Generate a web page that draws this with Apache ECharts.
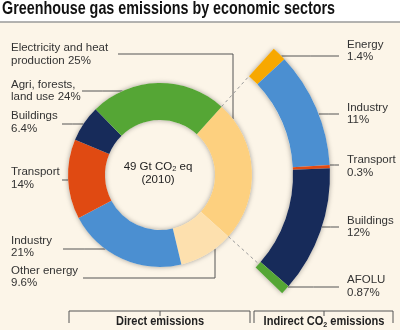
<!DOCTYPE html>
<html><head><meta charset="utf-8">
<script src="https://cdn.jsdelivr.net/npm/echarts@6/dist/echarts.min.js"></script>
<style>html,body{margin:0;padding:0;background:#fff}#c{width:400px;height:330px}</style>
</head><body><div id="c"></div>
<script>
// ---- data ----
const chartTitle = 'Greenhouse gas emissions by economic sectors';
const centerLines = ['49 Gt CO', '2', ' eq', '(2010)'];
const directNames = ['Electricity and heat\nproduction', 'Other energy', 'Industry', 'Transport', 'Buildings', 'Agri, forests,\nland use'];
const directValues = [25, 9.6, 21, 14, 6.4, 24];
const indirectNames = ['Energy', 'Industry', 'Transport', 'Buildings', 'AFOLU'];
const indirectValues = [1.4, 11, 0.3, 12, 0.87];
const groupNames = ['Direct emissions', 'Indirect CO', '2', ' emissions'];

// ---- styles / layout ----
const directColors = ['#fdd07f', '#fde0ae', '#4b8fd1', '#e04a12', '#172b5a', '#55a635'];
const indirectColors = ['#f7a800', '#4b8fd1', '#e04a12', '#172b5a', '#55a635'];
const G = {cx: 160, cy: 175, r0: 55, r1: 92, a0: 133, a1: 170, start: 48};
const FONT = 'Liberation Sans, Arial, sans-serif';
const TITLE_FONT = 'bold 18.5px Liberation Sans, Arial, sans-serif';
const GROUP_FONT = 'bold 12.5px Liberation Sans, Arial, sans-serif';
const TITLE_WIDTH = 333, GROUP_W0 = 88, GROUP_W1 = 123;
const directLayout = [
  {ty: 54.5, ly: 54, lx: 118, elbow: 233},
  {ty: 277, ly: 278, lx: 83, elbow: 215},
  {ty: 247, ly: 249, lx: 63},
  {ty: 178.5, ly: 180, lx: 62},
  {ty: 122.5, ly: 124, lx: 62},
  {ty: 91, ly: 91, lx: 82}
];
const indirectLayout = [
  {ty: 51, ly: 56}, {ty: 114, ly: 114}, {ty: 166.5, ly: 165}, {ty: 227, ly: 227}, {ty: 286.5, ly: 287}
];
const leftTextX = 11, rightTextX = 347, rightLineX = 339;

const totalDirect = directValues.reduce((a, b) => a + b, 0);
const totalIndirect = indirectValues.reduce((a, b) => a + b, 0);
const fmt = (name, v) => name.indexOf('\n') >= 0 ? name + ' ' + v + '%' : name + '\n' + v + '%';

const labelStyle = {color: '#333', fontSize: 11.5, lineHeight: 12.5, fontFamily: FONT};
const lineStyle = {color: '#555', width: 1};

// fit condensed-looking bold texts into their widths
const ctx = document.createElement('canvas').getContext('2d');
ctx.font = TITLE_FONT;
const titleScale = TITLE_WIDTH / ctx.measureText(chartTitle).width;
ctx.font = GROUP_FONT;
const g0Scale = GROUP_W0 / ctx.measureText(groupNames[0]).width;
const g1Scale = GROUP_W1 / ctx.measureText(groupNames[1] + groupNames[2] + groupNames[3]).width;

function directLabelLayout(p) {
  const L = directLayout[p.dataIndex];
  if (!L) return {};
  let pts;
  if (L.elbow != null) {
    const dy = Math.sqrt(G.r1 * G.r1 - (L.elbow - G.cx) * (L.elbow - G.cx));
    const ey = L.ly < G.cy ? G.cy - dy : G.cy + dy;
    pts = [[L.elbow, ey], [L.elbow, L.ly], [L.lx, L.ly]];
  } else {
    const dx = Math.sqrt(G.r1 * G.r1 - (L.ly - G.cy) * (L.ly - G.cy));
    const ex = G.cx - dx;
    pts = [[ex, L.ly], [(ex + L.lx) / 2, L.ly], [L.lx, L.ly]];
  }
  return {x: leftTextX, y: L.ty, align: 'left', verticalAlign: 'middle', labelLinePoints: pts};
}
function indirectLabelLayout(p) {
  const L = indirectLayout[p.dataIndex];
  if (!L) return {};
  const dx = Math.sqrt(G.a1 * G.a1 - (L.ly - G.cy) * (L.ly - G.cy));
  const ex = G.cx + dx;
  return {x: rightTextX, y: L.ty, align: 'left', verticalAlign: 'middle',
    labelLinePoints: [[ex, L.ly], [(ex + rightLineX) / 2, L.ly], [rightLineX, L.ly]]};
}

const chart = echarts.init(document.getElementById('c'), null, {renderer: 'canvas'});
const shadow = {shadowBlur: 5, shadowColor: 'rgba(0,0,0,0.35)'};

const option = {
  animation: false,
  backgroundColor: '#ffffff',
  polar: {center: [G.cx, G.cy], radius: G.a1},
  angleAxis: {type: 'value', min: 0, max: totalDirect, startAngle: G.start, clockwise: true, show: false},
  radiusAxis: {type: 'value', min: 0, max: G.a1, show: false},
  graphic: [
    {type: 'rect', z: -10, shape: {x: 0, y: 22, width: 400, height: 308}, style: {fill: '#fcf5e8'}},
    {type: 'line', z: -5, shape: {x1: 0, y1: 22, x2: 400, y2: 22}, style: {stroke: '#9a9a9a', lineWidth: 1.5}},
    {type: 'text', x: 2, y: 9, scaleX: titleScale, style: {text: chartTitle, font: TITLE_FONT,
      align: 'left', verticalAlign: 'middle', fill: '#111'}},
    {type: 'text', z: 10, x: 158, y: 173, style: {
      text: '{n|' + centerLines[0] + '}{s|' + centerLines[1] + '}{n|' + centerLines[2] + '}\n{n|' + centerLines[3] + '}',
      align: 'center', verticalAlign: 'middle', fill: '#222',
      rich: {n: {fontSize: 11.5, fontFamily: FONT, lineHeight: 13, fill: '#222'},
             s: {fontSize: 7.5, fontFamily: FONT, lineHeight: 13, padding: [5, 0, 0, 0], fill: '#222'}}}},
    {type: 'polyline', shape: {points: [[69, 323], [69, 311], [250, 311], [250, 323]]}, style: {stroke: '#555', lineWidth: 1, fill: null}},
    {type: 'line', shape: {x1: 160, y1: 311, x2: 160, y2: 316}, style: {stroke: '#555', lineWidth: 1}},
    {type: 'polyline', shape: {points: [[254, 323], [254, 311], [393, 311], [393, 323]]}, style: {stroke: '#555', lineWidth: 1, fill: null}},
    {type: 'line', shape: {x1: 324, y1: 311, x2: 324, y2: 316}, style: {stroke: '#555', lineWidth: 1}},
    {type: 'text', x: 160, y: 322, scaleX: g0Scale, style: {text: groupNames[0], align: 'center', verticalAlign: 'middle',
      font: GROUP_FONT, fill: '#222'}},
    {type: 'text', x: 324, y: 322, scaleX: g1Scale, style: {
      text: '{b|' + groupNames[1] + '}{s|' + groupNames[2] + '}{b|' + groupNames[3] + '}',
      align: 'center', verticalAlign: 'middle', fill: '#222',
      rich: {b: {fontSize: 12.5, fontWeight: 'bold', fontFamily: FONT, lineHeight: 14, fill: '#222'},
             s: {fontSize: 8, fontWeight: 'bold', fontFamily: FONT, lineHeight: 14, padding: [5, 0, 0, 0], fill: '#222'}}}}
  ],
  series: [
    // shadow bases
    {type: 'pie', silent: true, center: [G.cx, G.cy], radius: [G.r0, G.r1], startAngle: G.start,
      label: {show: false}, labelLine: {show: false},
      data: [{value: totalDirect, itemStyle: Object.assign({color: '#fcf5e8'}, shadow)}]},
    {type: 'pie', silent: true, center: [G.cx, G.cy], radius: [G.a0, G.a1], startAngle: G.start,
      label: {show: false}, labelLine: {show: false},
      data: [{value: totalIndirect, itemStyle: Object.assign({color: '#fcf5e8'}, shadow)},
             {value: totalDirect - totalIndirect, itemStyle: {color: 'rgba(0,0,0,0)'}}]},
    // direct
    {type: 'pie', name: 'Direct', silent: true, center: [G.cx, G.cy], radius: [G.r0, G.r1], startAngle: G.start,
      clockwise: true, avoidLabelOverlap: false,
      label: Object.assign({show: true, position: 'outside', formatter: p => fmt(p.name, p.value)}, labelStyle),
      labelLine: {show: true, length: 5, length2: 5, lineStyle: lineStyle},
      labelLayout: directLabelLayout,
      data: directNames.map((n, i) => ({name: n, value: directValues[i], itemStyle: {color: directColors[i]}}))},
    // indirect
    {type: 'pie', name: 'Indirect', silent: true, center: [G.cx, G.cy], radius: [G.a0, G.a1], startAngle: G.start,
      clockwise: true, avoidLabelOverlap: false,
      label: Object.assign({show: true, position: 'outside', formatter: p => fmt(p.name, p.value)}, labelStyle),
      labelLine: {show: true, length: 5, length2: 5, lineStyle: lineStyle},
      labelLayout: indirectLabelLayout,
      data: indirectNames.map((n, i) => ({name: n, value: indirectValues[i], itemStyle: {color: indirectColors[i]}}))
        .concat([{name: '', value: totalDirect - totalIndirect, itemStyle: {color: 'rgba(0,0,0,0)'},
          label: {show: false}, labelLine: {show: false}}])},
    // dashed connectors
    {type: 'line', coordinateSystem: 'polar', symbol: 'none', silent: true,
      lineStyle: {type: [3, 3], color: '#9a9a9a', width: 1},
      data: [[G.r1, 0], [G.a0, 0]]},
    {type: 'line', coordinateSystem: 'polar', symbol: 'none', silent: true,
      lineStyle: {type: [3, 3], color: '#9a9a9a', width: 1},
      data: [[G.r1, directValues[0]], [G.a0, directValues[0]]]}
  ]
};
chart.setOption(option);
</script>
</body></html>
